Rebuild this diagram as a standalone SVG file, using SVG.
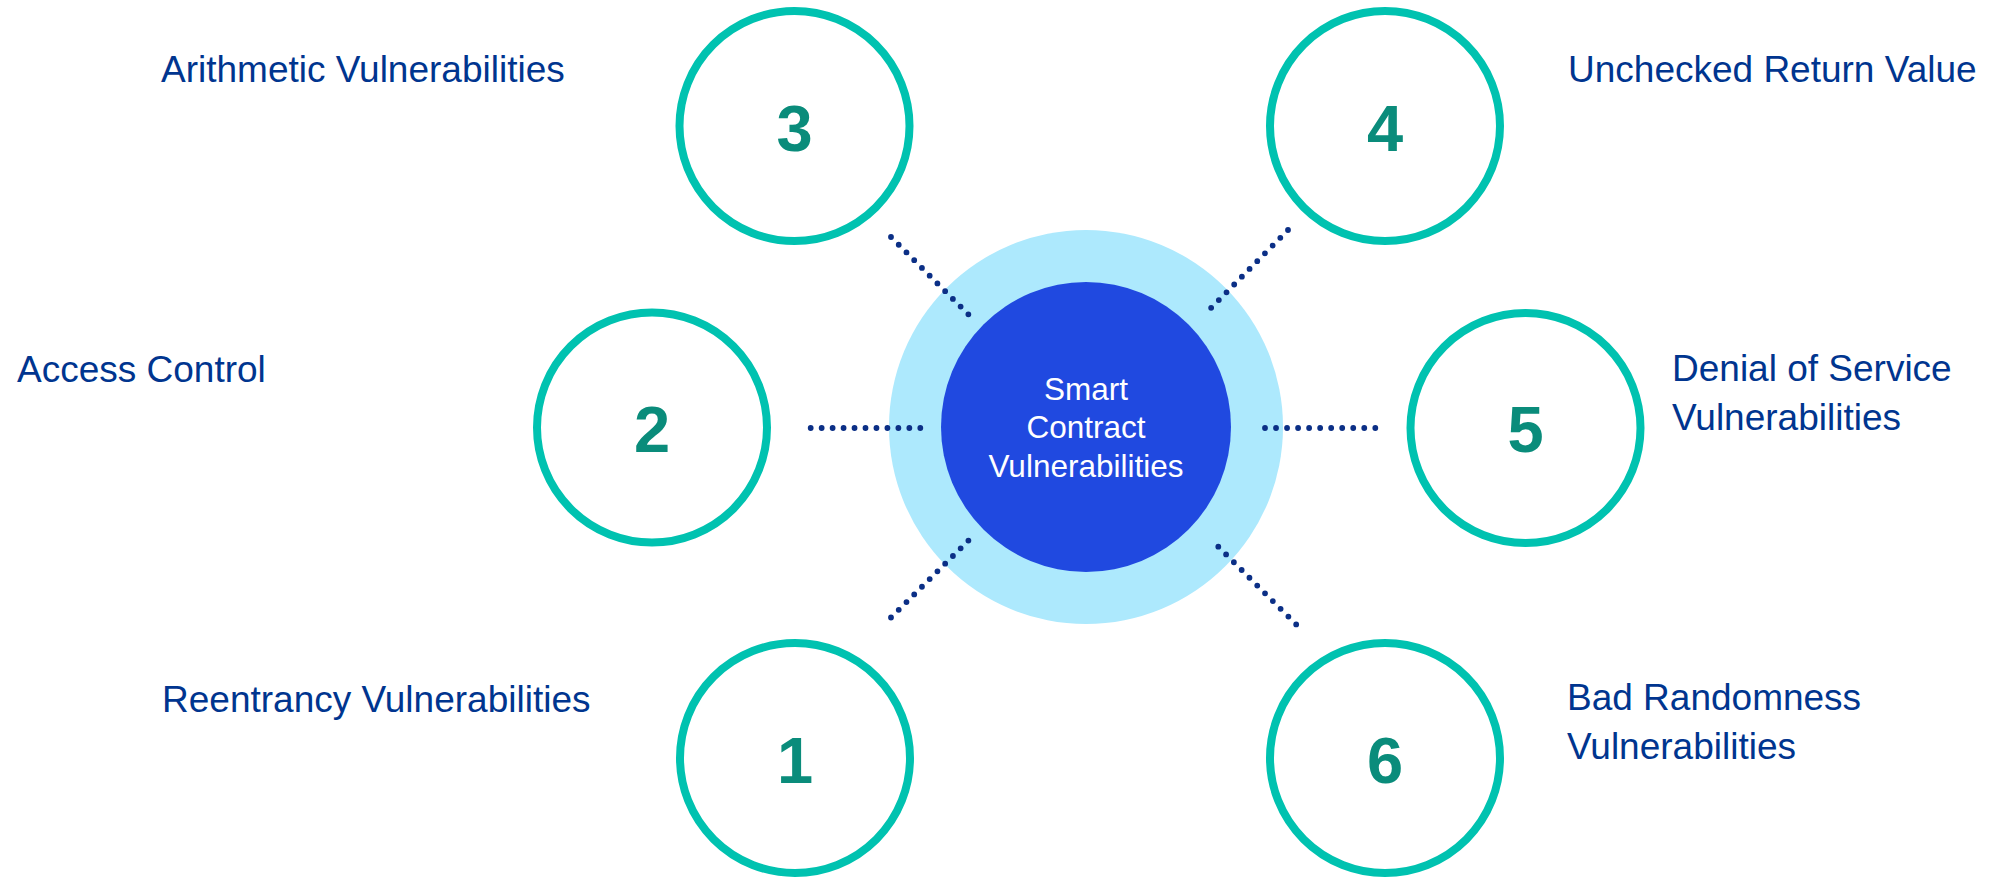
<svg xmlns="http://www.w3.org/2000/svg" width="1990" height="877" viewBox="0 0 1990 877">
  <style>
    .ring { fill: #ffffff; stroke: #00c2b0; stroke-width: 8; }
    .num { font-family: "Liberation Sans", Arial, sans-serif; font-weight: bold; font-size: 65px; fill: #0a8c7b; text-anchor: middle; }
    .label { font-family: "Liberation Sans", Arial, sans-serif; font-size: 37px; fill: #00358f; }
    .core-text { font-family: "Liberation Sans", Arial, sans-serif; font-size: 31.5px; fill: #ffffff; text-anchor: middle; }
    .dots { fill: none; stroke: #0b2f86; stroke-width: 5.8; stroke-linecap: round; }
  </style>
  <rect width="1990" height="877" fill="#ffffff"/>

  <!-- central hub -->
  <g id="hub">
    <circle cx="1086" cy="427" r="197" fill="#ade9fd"/>
    <circle cx="1086" cy="427" r="145" fill="#2049e0"/>
    <text class="core-text" x="1086" y="400">Smart</text>
    <text class="core-text" x="1086" y="438">Contract</text>
    <text class="core-text" x="1086" y="477">Vulnerabilities</text>
  </g>

  <!-- dotted connectors: 11 round dots each, spacing kept a hair under length/10 so the end dot is drawn -->
  <g id="connectors" class="dots">
    <path d="M891 237 L968.5 314.5" stroke-dasharray="0 10.94"/>
    <path d="M1288 230 L1211 308" stroke-dasharray="0 10.94"/>
    <path d="M810.7 428 L920.5 428" stroke-dasharray="0 10.96"/>
    <path d="M1265 428 L1375.5 428" stroke-dasharray="0 11.03"/>
    <path d="M891 617.5 L968.5 540.5" stroke-dasharray="0 10.91"/>
    <path d="M1218.3 546.7 L1296.3 624.5" stroke-dasharray="0 11"/>
  </g>

  <g id="node-1">
    <circle class="ring" cx="795" cy="758" r="115"/>
    <text class="num" x="795" y="783">1</text>
    <text class="label" x="162" y="712">Reentrancy Vulnerabilities</text>
  </g>

  <g id="node-2">
    <circle class="ring" cx="652" cy="427.5" r="115"/>
    <text class="num" x="652" y="452">2</text>
    <text class="label" x="17" y="382">Access Control</text>
  </g>

  <g id="node-3">
    <circle class="ring" cx="794.5" cy="126" r="115"/>
    <text class="num" x="794.5" y="151">3</text>
    <text class="label" x="161" y="82">Arithmetic Vulnerabilities</text>
  </g>

  <g id="node-4">
    <circle class="ring" cx="1385" cy="126" r="115"/>
    <text class="num" x="1385" y="151">4</text>
    <text class="label" x="1568" y="82">Unchecked Return Value</text>
  </g>

  <g id="node-5">
    <circle class="ring" cx="1525.5" cy="428" r="115"/>
    <text class="num" x="1525.5" y="452">5</text>
    <text class="label" x="1672" y="381">Denial of Service</text>
    <text class="label" x="1672" y="430">Vulnerabilities</text>
  </g>

  <g id="node-6">
    <circle class="ring" cx="1385" cy="758" r="115"/>
    <text class="num" x="1385" y="783">6</text>
    <text class="label" x="1567" y="710">Bad Randomness</text>
    <text class="label" x="1567" y="759">Vulnerabilities</text>
  </g>
</svg>
